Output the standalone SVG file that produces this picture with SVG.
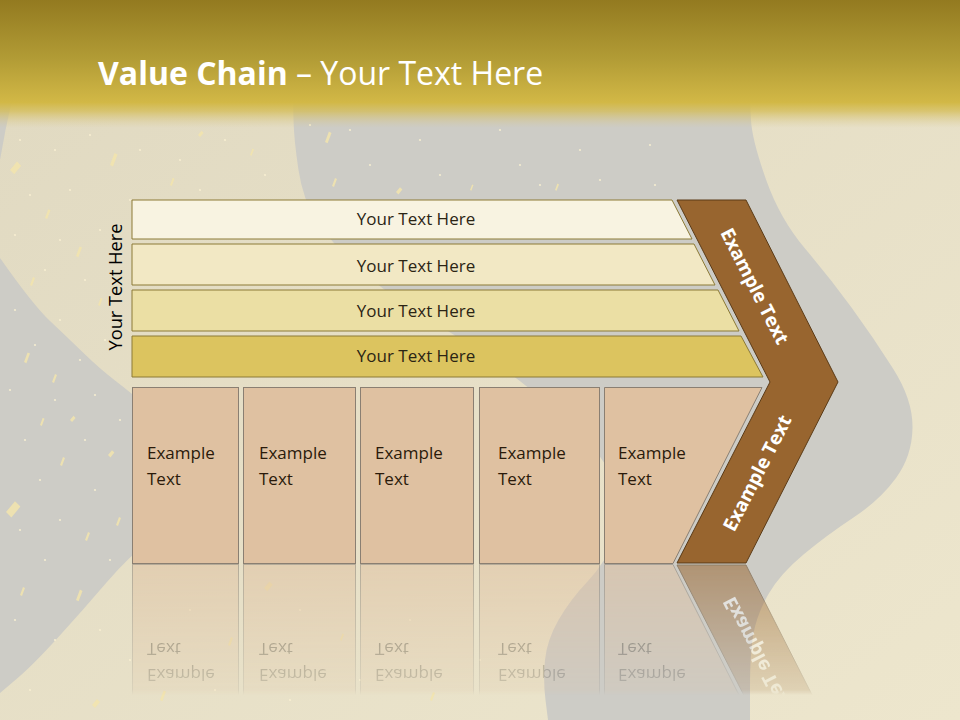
<svg xmlns="http://www.w3.org/2000/svg" xmlns:xlink="http://www.w3.org/1999/xlink" width="960" height="720" viewBox="0 0 960 720">
<style>
.gray{fill:#cdccc6}
.bar{stroke:#8c7a36;stroke-width:1}
.box{fill:#dfc1a1;stroke:#8a7f72;stroke-width:1}
.chev{fill:#98652f;stroke:#5b3b17;stroke-width:1}
.bt{font-family:"Open Sans","Noto Sans",sans-serif;font-size:17px;fill:#2b2414;text-anchor:middle}
.xt{font-family:"Open Sans","Noto Sans",sans-serif;font-size:17px;fill:#2a1a0a}
.ct{font-family:"Open Sans","Noto Sans",sans-serif;font-size:19px;font-weight:700;fill:#ffffff;text-anchor:middle}
.fl{fill:#f2e4ad;opacity:.85}
.fw{fill:#f8f0d2;opacity:.9}
</style>
<defs>
<linearGradient id="cream" x1="0" y1="0" x2="1" y2="1">
<stop offset="0" stop-color="#e0d9c1"/>
<stop offset="1" stop-color="#ede6cd"/>
</linearGradient>
<linearGradient id="hdr" x1="0" y1="0" x2="0" y2="128" gradientUnits="userSpaceOnUse">
<stop offset="0" stop-color="#937a20"/>
<stop offset="0.45" stop-color="#b19b35"/>
<stop offset="0.8" stop-color="#d2b846"/>
<stop offset="0.87" stop-color="#d4bc55" stop-opacity="0.75"/>
<stop offset="1" stop-color="#d8c88e" stop-opacity="0"/>
</linearGradient>
<linearGradient id="fadeG" x1="0" y1="563" x2="0" y2="695" gradientUnits="userSpaceOnUse">
<stop offset="0" stop-color="#fff" stop-opacity="0.55"/>
<stop offset="0.96" stop-color="#fff" stop-opacity="0.15"/>
<stop offset="1" stop-color="#fff" stop-opacity="0"/>
</linearGradient>
<mask id="fade" maskUnits="userSpaceOnUse" x="0" y="560" width="960" height="160">
<rect x="0" y="563" width="960" height="157" fill="url(#fadeG)"/>
</mask>
<path id="sh1" d="M0,0 L3,-8 L5,-7 L2,1 Z"/>
<path id="sh2" d="M0,0 L5,-6 L8,-3 L3,3 Z"/>
<circle id="dt" r="1.1"/>
</defs>

<g id="background">
<rect x="0" y="0" width="960" height="720" fill="url(#cream)"/>
<path class="gray" d="M293,100 L293.5,120 Q294,140 298.5,170 Q303,200 316.5,220.5 Q330,241 354.5,264.5 Q379,288 415.5,310.5 Q452,333 488.5,358 Q525,383 562.5,416.5 Q600,450 614,480 Q628,510 616.5,536.5 Q605,563 587.5,581.5 Q570,600 558.5,620 Q547,640 545,660 Q543,680 545.5,700 L548,720 L750,720 L750,686.5 Q750,653 753.5,633.5 Q757,614 768.5,594 Q780,574 803.5,554.5 Q827,535 853.5,517.5 Q880,500 896,478 Q912,456 912.5,428 Q913,400 893,368.5 Q873,337 851.5,307.5 Q830,278 805,248.5 Q780,219 766,179.5 Q752,140 751,120 L750,100 Z"/>
<path class="gray" d="M0,258 Q33,305 50,321 Q67,337 83.5,353 Q100,369 115,380.5 Q130,392 152.5,411 Q175,430 185,452.5 Q195,475 186.5,497.5 Q178,520 154,537.5 Q130,555 106.5,582.5 Q83,610 58,637.5 Q33,665 16.5,679 L0,693 Z"/>
<path class="gray" d="M0,100 L12,100 Q5,130 0,160 Z"/>
<g id="flecks">
<use href="#sh2" class="fl" transform="translate(10,170) scale(1.4)"/>
<use href="#sh1" class="fl" transform="translate(110,165) scale(1.5)"/>
<use href="#sh1" class="fl" transform="translate(76,256) scale(1.2)"/>
<use href="#sh2" class="fl" transform="translate(6,512) scale(1.8)"/>
<use href="#sh1" class="fl" transform="translate(52,382)"/>
<use href="#sh1" class="fl" transform="translate(24,362) scale(1.2)"/>
<use href="#sh1" class="fl" transform="translate(76,600) scale(1.3)"/>
<use href="#sh2" class="fl" transform="translate(264,588) scale(1.1)"/>
<use href="#sh1" class="fl" transform="translate(325,142) scale(1.3)"/>
<use href="#sh1" class="fl" transform="translate(332,186)"/>
<use href="#sh2" class="fl" transform="translate(396,192) scale(0.8)"/>
<use href="#sh1" class="fl" transform="translate(228,645)"/>
<use href="#sh1" class="fl" transform="translate(160,700) scale(1.2)"/>
<use href="#sh2" class="fl" transform="translate(92,705)"/>
<use href="#sh1" class="fl" transform="translate(60,465)"/>
<use href="#sh1" class="fl" transform="translate(40,425) scale(0.9)"/>
<use href="#sh2" class="fl" transform="translate(108,455) scale(0.8)"/>
<use href="#sh1" class="fl" transform="translate(116,525)"/>
<use href="#sh1" class="fl" transform="translate(20,595)"/>
<use href="#sh1" class="fl" transform="translate(250,155) scale(0.8)"/>
<use href="#sh2" class="fl" transform="translate(198,135) scale(0.7)"/>
<use href="#sh1" class="fl" transform="translate(170,185) scale(0.9)"/>
<use href="#sh1" class="fl" transform="translate(45,218) scale(1.1)"/>
<use href="#sh1" class="fl" transform="translate(98,305) scale(0.9)"/>
<use href="#sh1" class="fl" transform="translate(30,285)"/>
<use href="#sh2" class="fl" transform="translate(70,420) scale(0.7)"/>
<use href="#sh1" class="fl" transform="translate(85,540)"/>
<use href="#sh1" class="fl" transform="translate(340,640) scale(0.8)"/>
<use href="#sh1" class="fl" transform="translate(430,700)"/>
<use href="#sh1" class="fl" transform="translate(470,190) scale(0.7)"/>
<use href="#sh1" class="fl" transform="translate(555,190) scale(0.8)"/>
<use href="#dt" class="fw" x="20" y="140"/><use href="#dt" class="fw" x="55" y="150"/><use href="#dt" class="fw" x="90" y="135"/>
<use href="#dt" class="fw" x="140" y="150"/><use href="#dt" class="fw" x="180" y="160"/><use href="#dt" class="fw" x="225" y="140"/>
<use href="#dt" class="fw" x="265" y="175"/><use href="#dt" class="fw" x="30" y="195"/><use href="#dt" class="fw" x="70" y="190"/>
<use href="#dt" class="fw" x="130" y="200"/><use href="#dt" class="fw" x="200" y="190"/><use href="#dt" class="fw" x="15" y="235"/>
<use href="#dt" class="fw" x="60" y="240"/><use href="#dt" class="fw" x="100" y="230"/><use href="#dt" class="fw" x="45" y="270"/>
<use href="#dt" class="fw" x="85" y="280"/><use href="#dt" class="fw" x="15" y="310"/><use href="#dt" class="fw" x="60" y="320"/>
<use href="#dt" class="fw" x="105" y="340"/><use href="#dt" class="fw" x="35" y="345"/><use href="#dt" class="fw" x="80" y="360"/>
<use href="#dt" class="fw" x="10" y="390"/><use href="#dt" class="fw" x="55" y="400"/><use href="#dt" class="fw" x="95" y="395"/>
<use href="#dt" class="fw" x="25" y="440"/><use href="#dt" class="fw" x="85" y="440"/><use href="#dt" class="fw" x="120" y="420"/>
<use href="#dt" class="fw" x="40" y="480"/><use href="#dt" class="fw" x="95" y="490"/><use href="#dt" class="fw" x="20" y="530"/>
<use href="#dt" class="fw" x="60" y="520"/><use href="#dt" class="fw" x="110" y="560"/><use href="#dt" class="fw" x="45" y="560"/>
<use href="#dt" class="fw" x="15" y="620"/><use href="#dt" class="fw" x="55" y="640"/><use href="#dt" class="fw" x="100" y="630"/>
<use href="#dt" class="fw" x="30" y="690"/><use href="#dt" class="fw" x="130" y="660"/><use href="#dt" class="fw" x="190" y="610"/>
<use href="#dt" class="fw" x="215" y="690"/><use href="#dt" class="fw" x="300" y="610"/><use href="#dt" class="fw" x="290" y="700"/>
<use href="#dt" class="fw" x="360" y="680"/><use href="#dt" class="fw" x="410" y="620"/><use href="#dt" class="fw" x="480" y="660"/>
<use href="#dt" class="fw" x="350" y="130"/><use href="#dt" class="fw" x="370" y="165"/><use href="#dt" class="fw" x="420" y="140"/>
<use href="#dt" class="fw" x="440" y="175"/><use href="#dt" class="fw" x="500" y="130"/><use href="#dt" class="fw" x="520" y="165"/>
<use href="#dt" class="fw" x="540" y="185"/><use href="#dt" class="fw" x="580" y="150"/><use href="#dt" class="fw" x="600" y="180"/>
<use href="#dt" class="fw" x="650" y="145"/><use href="#dt" class="fw" x="655" y="185"/><use href="#dt" class="fw" x="310" y="125"/>
</g>
</g>

<g id="header">
<rect x="0" y="0" width="960" height="128" fill="url(#hdr)"/>
<text x="98" y="85" font-family="'Open Sans','Noto Sans',sans-serif" font-size="32" fill="#ffffff"><tspan font-weight="700">Value Chain</tspan> – Your Text Here</text>
</g>

<g id="connectors"></g>

<g id="side-label">
<text transform="translate(122,287) rotate(-90)" x="0" y="0" font-family="'Open Sans','Noto Sans',sans-serif" font-size="18" fill="#000000" text-anchor="middle" textLength="127" lengthAdjust="spacingAndGlyphs">Your Text Here</text>
</g>

<g id="bar1"><polygon class="bar" fill="#f8f3e1" points="132,200 672,200 692,239 132,239"/><text class="bt" x="416" y="225">Your Text Here</text></g>
<g id="bar2"><polygon class="bar" fill="#f2e8c4" points="132,244 694,244 715,285 132,285"/><text class="bt" x="416" y="272">Your Text Here</text></g>
<g id="bar3"><polygon class="bar" fill="#ebdfa4" points="132,290 718,290 739,331 132,331"/><text class="bt" x="416" y="317">Your Text Here</text></g>
<g id="bar4"><polygon class="bar" fill="#dcc45f" points="132,336 741,336 763,377 132,377"/><text class="bt" x="416" y="362">Your Text Here</text></g>

<g id="box1"><rect class="box" x="132.5" y="387.5" width="106" height="176"/><text class="xt" x="147" y="459">Example</text><text class="xt" x="147" y="485">Text</text></g>
<g id="box2"><rect class="box" x="243.5" y="387.5" width="112" height="176"/><text class="xt" x="259" y="459">Example</text><text class="xt" x="259" y="485">Text</text></g>
<g id="box3"><rect class="box" x="360.5" y="387.5" width="113" height="176"/><text class="xt" x="375" y="459">Example</text><text class="xt" x="375" y="485">Text</text></g>
<g id="box4"><rect class="box" x="479.5" y="387.5" width="120" height="176"/><text class="xt" x="498" y="459">Example</text><text class="xt" x="498" y="485">Text</text></g>
<g id="box5"><polygon class="box" points="604.5,387.5 762,387.5 673,563.5 604.5,563.5"/><text class="xt" x="618" y="459">Example</text><text class="xt" x="618" y="485">Text</text></g>

<g id="chevron">
<polygon class="chev" points="677,200 746,200 838,382 746,563 677,563 770,382"/>
<text class="ct" transform="translate(755,286) rotate(63)" x="0" y="7">Example Text</text>
<text class="ct" transform="translate(757,473) rotate(-63)" x="0" y="7">Example Text</text>
</g>

<g id="reflection" mask="url(#fade)">
<g transform="translate(0,1128) scale(1,-1)">
<rect class="box" x="132.5" y="387.5" width="106" height="176"/><text class="xt" x="147" y="459">Example</text><text class="xt" x="147" y="485">Text</text>
<rect class="box" x="243.5" y="387.5" width="112" height="176"/><text class="xt" x="259" y="459">Example</text><text class="xt" x="259" y="485">Text</text>
<rect class="box" x="360.5" y="387.5" width="113" height="176"/><text class="xt" x="375" y="459">Example</text><text class="xt" x="375" y="485">Text</text>
<rect class="box" x="479.5" y="387.5" width="120" height="176"/><text class="xt" x="498" y="459">Example</text><text class="xt" x="498" y="485">Text</text>
<polygon class="box" points="604.5,387.5 762,387.5 673,563.5 604.5,563.5"/><text class="xt" x="618" y="459">Example</text><text class="xt" x="618" y="485">Text</text>
<polygon class="chev" points="770,382 838,382 746,563 677,563"/>
<text class="ct" transform="translate(757,473) rotate(-63)" x="0" y="7">Example Text</text>
</g>
</g>
</svg>
